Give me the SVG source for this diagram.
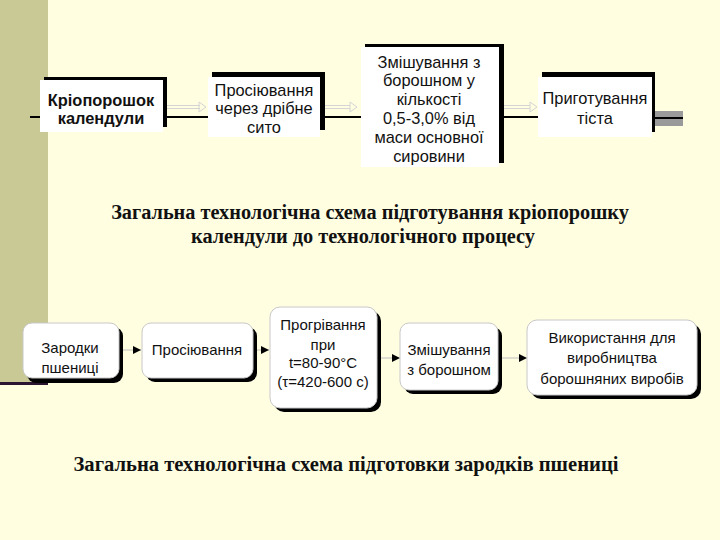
<svg xmlns="http://www.w3.org/2000/svg" width="720" height="540" viewBox="0 0 720 540">
<defs>
<style>
.t{font-family:"Liberation Sans",Arial,sans-serif;font-size:15px;fill:#111;text-anchor:middle}
.u{font-size:16.4px}
.b{font-weight:bold}
.cap{font-family:"Liberation Serif","Times New Roman",serif;font-size:20.3px;font-weight:bold;fill:#111;text-anchor:middle}
.sh{fill:#000}
.wb{fill:#fff}
.rb{fill:#fff;stroke:#c8c8c8;stroke-width:1}
.blk{stroke:#000;stroke-width:2;fill:none}
.gry{stroke:#d4d4d4;stroke-width:1;fill:none}
.ga{fill:none;stroke:#d4d4d4;stroke-width:1}
.sl{stroke:#bdbdbd;stroke-width:1;fill:none}
</style>
<marker id="ah" viewBox="0 0 10 10" refX="10" refY="5" markerWidth="8" markerHeight="8" markerUnits="userSpaceOnUse" orient="auto">
<path d="M0,0 L10,5 L0,10 Z" fill="#000"/>
</marker>
</defs>
<rect x="0" y="0" width="720" height="540" fill="#FFFEE1"/>
<rect x="0" y="0" width="48" height="383" fill="#C8C995"/>
<rect x="0" y="382" width="48" height="3" fill="#2B1530"/>

<g id="connectors">
<line class="blk" x1="30" y1="117" x2="40" y2="117"/>
<line class="blk" x1="163" y1="117" x2="208" y2="117"/>
<line class="blk" x1="320" y1="117" x2="361" y2="117"/>
<line class="blk" x1="499" y1="117" x2="538" y2="117"/>
<line class="gry" x1="167" y1="105.5" x2="200" y2="105.5"/>
<line class="gry" x1="167" y1="108.5" x2="200" y2="108.5"/>
<path class="ga" d="M199,102 L206,107 L199,112 Z"/>
<line class="gry" x1="325" y1="105.5" x2="350" y2="105.5"/>
<line class="gry" x1="325" y1="108.5" x2="350" y2="108.5"/>
<path class="ga" d="M350,102 L357,107 L350,112 Z"/>
<line class="gry" x1="504" y1="105.5" x2="530" y2="105.5"/>
<line class="gry" x1="504" y1="108.5" x2="530" y2="108.5"/>
<path class="ga" d="M530,102 L537,107 L530,112 Z"/>
<rect x="655" y="111" width="28" height="15" fill="#9a9a9a"/>
<line class="blk" x1="655" y1="118" x2="683" y2="118"/>
<line class="sl" x1="123" y1="350" x2="141" y2="350" marker-end="url(#ah)"/>
<line class="sl" x1="257" y1="350" x2="269" y2="350" marker-end="url(#ah)"/>
<line class="sl" x1="381" y1="358" x2="400" y2="358" marker-end="url(#ah)"/>
<line class="sl" x1="502" y1="358" x2="527" y2="358" marker-end="url(#ah)"/>
</g>

<g id="n1">
<rect class="sh" x="44" y="77" width="123" height="50"/>
<rect class="wb" x="40" y="80" width="123" height="52"/>
<text class="t u b" x="101" y="106">Кріопорошок</text>
<text class="t u b" x="101" y="124">календули</text>
</g>
<g id="n2">
<rect class="sh" x="212" y="72" width="113" height="58"/>
<rect class="wb" x="208" y="77" width="112" height="60"/>
<text class="t u" x="264" y="96">Просіювання</text>
<text class="t u" x="264" y="114">через дрібне</text>
<text class="t u" x="264" y="133">сито</text>
</g>
<g id="n3">
<rect class="sh" x="365" y="44" width="139" height="119"/>
<rect class="wb" x="361" y="47" width="138" height="120"/>
<text class="t u" x="429" y="68">Змішування з</text>
<text class="t u" x="429" y="86">борошном у</text>
<text class="t u" x="429" y="105">кількості</text>
<text class="t u" x="429" y="124">0,5-3,0% від</text>
<text class="t u" x="429" y="143">маси основної</text>
<text class="t u" x="429" y="162">сировини</text>
</g>
<g id="n4">
<rect class="sh" x="542" y="72" width="113" height="60"/>
<rect class="wb" x="538" y="77" width="114" height="60"/>
<text class="t u" x="595" y="104">Приготування</text>
<text class="t u" x="595" y="124">тіста</text>
</g>

<text class="cap" x="370" y="219">Загальна технологічна схема підготування кріопорошку</text>
<text class="cap" x="363" y="243">календули до технологічного процесу</text>

<g id="m1">
<rect class="sh" x="27" y="327" width="96" height="56" rx="9"/>
<rect class="rb" x="23" y="323" width="96" height="55" rx="9"/>
<text class="t" x="70" y="353">Зародки</text>
<text class="t" x="70" y="373">пшениці</text>
</g>
<g id="m2">
<rect class="sh" x="146" y="327" width="111" height="55" rx="9"/>
<rect class="rb" x="142" y="323" width="111" height="55" rx="9"/>
<text class="t" x="197" y="355">Просіювання</text>
</g>
<g id="m3">
<rect class="sh" x="274" y="311" width="107" height="101" rx="10"/>
<rect class="rb" x="270" y="307" width="107" height="101" rx="10"/>
<text class="t" x="323" y="330">Прогрівання</text>
<text class="t" x="323" y="350">при</text>
<text class="t" x="323" y="368">t=80-90°C</text>
<text class="t" x="323" y="387">(τ=420-600 с)</text>
</g>
<g id="m4">
<rect class="sh" x="404" y="327" width="98" height="67" rx="9"/>
<rect class="rb" x="400" y="323" width="98" height="67" rx="9"/>
<text class="t" x="449" y="355">Змішування</text>
<text class="t" x="449" y="375">з борошном</text>
</g>
<g id="m5">
<rect class="sh" x="531" y="324" width="170" height="75" rx="10"/>
<rect class="rb" x="527" y="320" width="170" height="75" rx="10"/>
<text class="t" x="612" y="343">Використання для</text>
<text class="t" x="612" y="363">виробництва</text>
<text class="t" x="612" y="384">борошняних виробів</text>
</g>

<text class="cap" x="346" y="471" style="font-size:20.6px">Загальна технологічна схема підготовки зародків пшениці</text>
</svg>
